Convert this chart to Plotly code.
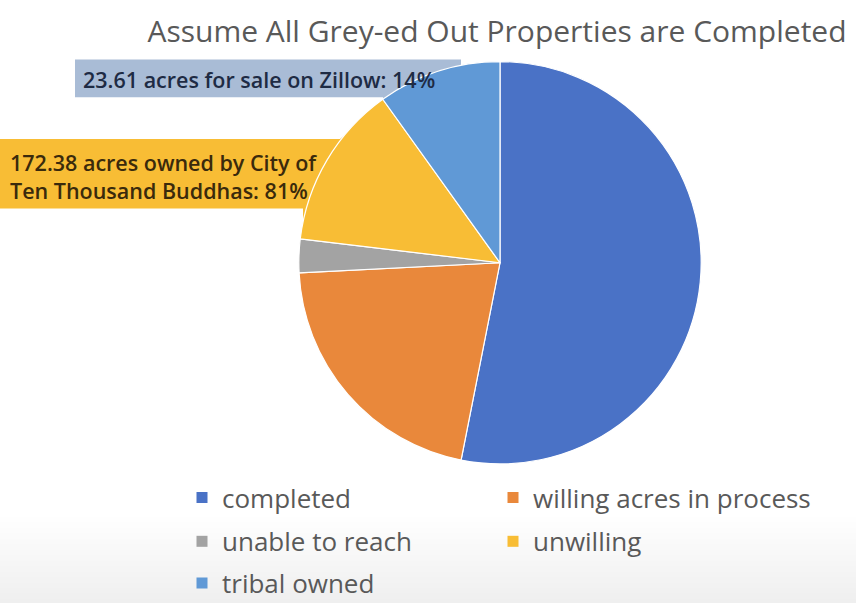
import plotly.graph_objects as go

# ---- data ----
categories = ["completed", "willing acres in process", "unable to reach", "unwilling", "tribal owned"]
values = [53.1, 21.1, 2.7, 13.2, 9.9]
colors = ["#4a72c6", "#e9883b", "#a3a3a3", "#f8bd35", "#6099d6"]
title_text = "Assume All Grey-ed Out Properties are Completed"
callout_zillow = "23.61 acres for sale on Zillow: 14%"
callout_city = "172.38 acres owned by City of<br>Ten Thousand Buddhas: 81%"

W, H = 856, 607
FONT = "'Open Sans', Lato, sans-serif"

fig = go.Figure()

fig.add_trace(go.Pie(
    labels=categories, values=values, sort=False, direction="clockwise", rotation=0,
    marker=dict(colors=colors, line=dict(color="white", width=1.2)),
    textinfo="none", hoverinfo="label+percent", showlegend=False,
    domain=dict(x=[298 / W, 702 / W], y=[1 - 467 / H, 1 - 62 / H]),
))

# legend layout: two columns, three rows (each entry its own legend box)
col_x = [182, 493]
row_y = [501, 545, 587]
legend_layouts = {}
for i, name in enumerate(categories):
    r, c = divmod(i, 2)
    key = "legend" if i == 0 else "legend%d" % (i + 1)
    fig.add_trace(go.Scatter(
        x=[None], y=[None], mode="markers", name=name,
        marker=dict(symbol="square", size=11, color=colors[i]),
        legend=key, showlegend=True, hoverinfo="skip",
    ))
    legend_layouts[key] = dict(
        orientation="h", xanchor="left", yanchor="middle",
        x=col_x[c] / W, y=1 - row_y[r] / H,
        font=dict(family=FONT, size=26, color="#595959"),
        bgcolor="rgba(0,0,0,0)", itemwidth=30,
    )

# background fade at bottom
shapes = []
for k in range(16):
    y0 = 520 + k * 5.5
    shapes.append(dict(type="rect", xref="x", yref="y", x0=0, x1=W, y0=y0, y1=H,
                       fillcolor="rgba(0,0,0,0.005)", line=dict(width=0), layer="below"))

# callout boxes
shapes.append(dict(type="path", xref="x", yref="y",
                   path="M 75,60 L 461,60 L 461,100 L 385,104 L 383,98 L 75,98 Z",
                   fillcolor="#a9bcd6", line=dict(width=0), layer="below"))
shapes.append(dict(type="path", xref="x", yref="y",
                   path="M 0,140 L 340,140 L 382,104 L 303,230 L 303,210 L 0,210 Z",
                   fillcolor="#f8bd35", line=dict(width=0), layer="below"))

annotations = [
    dict(x=81, y=80, xref="x", yref="y", text=callout_zillow, showarrow=False,
         xanchor="left", yanchor="middle",
         font=dict(family=FONT, size=21.5, color="#1e2b44", weight=600)),
    dict(x=8, y=178, xref="x", yref="y", text=callout_city, showarrow=False,
         xanchor="left", yanchor="middle", align="left",
         font=dict(family=FONT, size=21.5, color="#3a2a0c", weight=600)),
]

fig.update_layout(
    width=W, height=H, margin=dict(l=0, r=0, t=0, b=0),
    paper_bgcolor="white", plot_bgcolor="rgba(0,0,0,0)",
    title=dict(text=title_text, x=497 / W, xanchor="center", y=1 - 31 / H, yanchor="middle",
               font=dict(family=FONT, size=30, color="#595959")),
    xaxis=dict(range=[0, W], visible=False, domain=[0, 1], fixedrange=True),
    yaxis=dict(range=[H, 0], visible=False, domain=[0, 1], fixedrange=True),
    shapes=shapes, annotations=annotations,
    **legend_layouts,
)

fig.write_html("out.html")
